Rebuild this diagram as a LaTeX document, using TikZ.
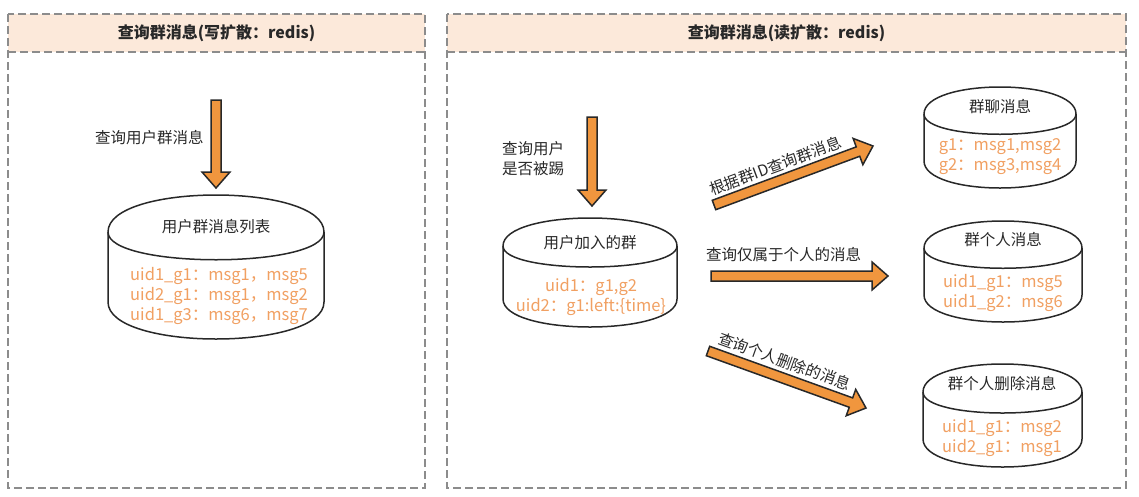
\documentclass[tikz,border=0pt]{standalone}
\usepackage{fontspec}
\setmainfont{Noto Sans CJK SC}
\usetikzlibrary{calc}
\definecolor{hdrfill}{RGB}{252,233,218}
\definecolor{framecol}{RGB}{140,140,140}
\definecolor{arrowfill}{RGB}{240,150,62}
\definecolor{ink}{RGB}{40,40,40}
\definecolor{datacol}{RGB}{241,160,98}
\tikzset{
  panel/.style={draw=framecol, line width=1.8pt, dash pattern=on 8pt off 4pt},
  hdr/.style={font=\fontsize{16}{18}\selectfont\bfseries, text=ink},
  lbl/.style={font=\fontsize{15.5}{20}\selectfont, text=ink, inner sep=0pt},
  data/.style={font=\fontsize{16.5}{20}\selectfont, text=datacol, align=center, inner sep=0pt},
  cylline/.style={draw=ink, line width=1.5pt, fill=white},
  blockarrow/.style={draw=ink, line width=1.5pt, fill=arrowfill, line join=miter},
}
\newcommand\cyl[6]{%
  \node[inner sep=0pt, minimum width=#4pt, minimum height=#5pt] (#1) at ({#2+#4/2},{#3+#5/2}) {};
  \draw[cylline] (#2,#3+#6) .. controls (#2,#3-#6/3) and (#2+#4,#3-#6/3) .. (#2+#4,#3+#6)
     -- (#2+#4,#3+#5-#6) .. controls (#2+#4,#3+#5+#6/3) and (#2,#3+#5+#6/3) .. (#2,#3+#5-#6) -- cycle;
  \draw[cylline, fill=none] (#2,#3+#6) .. controls (#2,#3+2*#6) and (#2+#4,#3+2*#6) .. (#2+#4,#3+#6);
}
\newcommand\barrow[2]{%
  \coordinate (hb) at ($(#2)!16pt!(#1)$);
  \draw[blockarrow] ($(#1)!5pt!90:(#2)$) -- ($(hb)!5pt!90:(#2)$) -- ($(hb)!14pt!90:(#2)$) -- (#2)
     -- ($(hb)!14pt!-90:(#2)$) -- ($(hb)!5pt!-90:(#2)$) -- ($(#1)!5pt!-90:(#2)$) -- cycle;
}
\begin{document}
\begin{tikzpicture}[x=1pt,y=-1pt]
\useasboundingbox (0,0) rectangle (1139,496);
% panels
\fill[hdrfill] (8,14) rectangle (425,52);
\fill[hdrfill] (447,14) rectangle (1126,52);
\draw[panel] (8,14) rectangle (425,488);
\draw[panel] (8,52) -- (425,52);
\draw[panel] (447,14) rectangle (1126,488);
\draw[panel] (447,52) -- (1126,52);
\node[hdr] (h1) at (216.5,33) {查询群消息(写扩散：redis)};
\node[hdr] (h2) at (786.5,33) {查询群消息(读扩散：redis)};

% left side
\coordinate (la1) at (216,100);
\coordinate (la2) at (216,188);
\barrow{la1}{la2}
\node[lbl, anchor=west] (l1) at (95,138) {查询用户群消息};
\cyl{c1}{108}{195}{216}{144}{37}
\node[lbl] (c1t) at (216,227) {用户群消息列表};
\node[data] (c1d) at (219,296) {uid1\_g1：msg1，msg5\\uid2\_g1：msg1，msg2\\uid1\_g3：msg6，msg7};

% right side
\coordinate (ra1) at (592,117);
\coordinate (ra2) at (592,206);
\barrow{ra1}{ra2}
\node[lbl, anchor=west, align=left] (l2) at (502,159) {查询用户\\是否被踢};
\cyl{c2}{503}{218}{174}{109}{28}
\node[lbl] (c2t) at (590,243) {用户加入的群};
\node[data] (c2d) at (591,297) {uid1：g1,g2\\uid2：g1:left:\{time\}};

\cyl{c3}{924}{87}{152}{101}{27}
\node[lbl] (c3t) at (1000,107) {群聊消息};
\node[data] (c3d) at (1000,156.5) {g1：msg1,msg2\\g2：msg3,msg4};

\cyl{c4}{924}{221}{158}{101}{27}
\node[lbl] (c4t) at (1003,240) {群个人消息};
\node[data] (c4d) at (1003,292.5) {uid1\_g1：msg5\\uid1\_g2：msg6};

\cyl{c5}{923}{364}{159}{103}{28}
\node[lbl] (c5t) at (1002,384) {群个人删除消息};
\node[data] (c5d) at (1002,438) {uid1\_g1：msg2\\uid2\_g1：msg1};

% arrows
\coordinate (a1s) at (714,205);
\coordinate (a1e) at (873,146);
\barrow{a1s}{a1e}
\path (a1s) -- (a1e) node[lbl, sloped, pos=0.42, above=8pt] (l3) {根据群ID查询群消息};

\coordinate (a2s) at (711,276);
\coordinate (a2e) at (888,276);
\barrow{a2s}{a2e}
\node[lbl, anchor=west] (l4) at (706,255) {查询仅属于个人的消息};

\coordinate (a3s) at (708,351);
\coordinate (a3e) at (866,408);
\barrow{a3s}{a3e}
\path (a3s) -- (a3e) node[lbl, sloped, pos=0.45, above=9pt] (l5) {查询个人删除的消息};
\end{tikzpicture}
\end{document}
